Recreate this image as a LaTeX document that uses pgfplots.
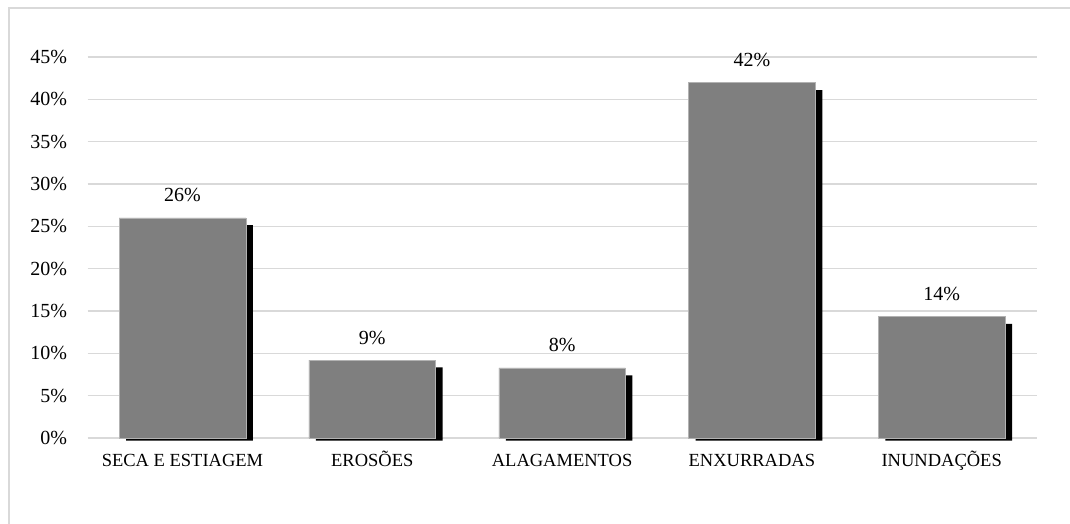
\documentclass[border=0pt]{standalone}
\usepackage{pgfplots}
\pgfplotsset{compat=1.18}
\usepackage{fontspec}
\setmainfont{Liberation Serif}
\definecolor{barfill}{RGB}{127,127,127}
\definecolor{gridc}{RGB}{217,217,217}

\begin{document}
\begin{tikzpicture}[x=1pt,y=1pt]
% frame of the picture (cut at right and bottom as in the original)
\path[use as bounding box] (-87.6,-85) rectangle (982.4,438);
\draw[gridc, line width=1.2pt] (-78.6,-120) -- (-78.6,430) -- (1020,430);

\begin{axis}[
    at={(0pt,0pt)}, anchor=south west,
    scale only axis,
    width=949pt, height=381pt,
    xmin=-0.5, xmax=4.5,
    ymin=0, ymax=45,
    xtick={0,1,2,3,4},
    xticklabels={SECA E ESTIAGEM, EROSÕES, ALAGAMENTOS, ENXURRADAS, INUNDAÇÕES},
    ytick={0,5,...,45},
    yticklabels={0\%,5\%,10\%,15\%,20\%,25\%,30\%,35\%,40\%,45\%},
    ymajorgrids=true,
    grid style={gridc, line width=1.3pt},
    axis line style={draw=none},
    major tick length=0pt,
    /pgf/number format/assume math mode=true,
    yticklabel style={font=\fontsize{20}{24}\selectfont, xshift=-17pt},
    xticklabel style={font=\fontsize{18.5}{22}\selectfont, anchor=base, yshift=-28pt},
    clip=false,
]

% shadow below the base line
\addplot[ybar, bar width=126.7pt, bar shift=7pt, fill=black, draw=none]
    coordinates {(0,-0.3)(1,-0.3)(2,-0.3)(3,-0.3)(4,-0.3)};

% shadow of each bar
\addplot[ybar, bar width=126.7pt, bar shift=7pt, fill=black, draw=none]
    coordinates {(0,25.14)(1,8.35)(2,7.41)(3,41.1)(4,13.47)};

% bars
\addplot[ybar, bar width=126.7pt, bar shift=0pt, fill=barfill, draw=gray!60, line width=0.5pt,
    nodes near coords={\pgfmathprintnumber[fixed,precision=0,assume math mode=true]{\pgfplotspointmeta}\%},
    every node near coord/.append style={font=\fontsize{20}{24}\selectfont, anchor=base, yshift=16pt}]
    coordinates {(0,26.0)(1,9.21)(2,8.27)(3,41.96)(4,14.33)};

\end{axis}
\end{tikzpicture}
\end{document}
